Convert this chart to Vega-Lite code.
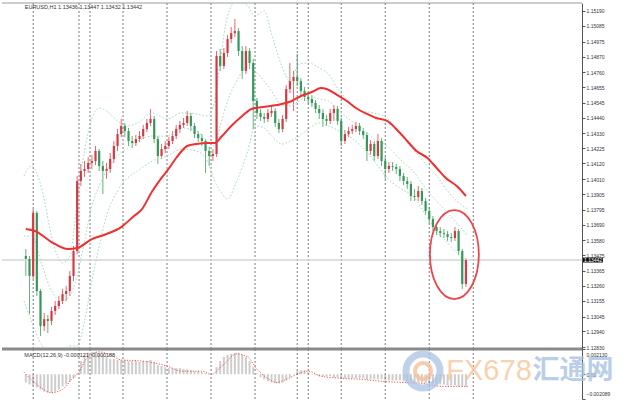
{
"$schema": "https://vega.github.io/schema/vega-lite/v6.json",
"background": "white",
"padding": {"left": 0, "top": 2, "right": 0, "bottom": 0},
"bounds": "flush",
"spacing": 0,
"config": {"view": {"stroke": null}, "text": {"font": "Liberation Sans"}, "scale": {"continuousPadding": 0}, "axis": {"grid": false, "title": null, "labelOverlap": false, "labelBound": false}},
"datasets": {
"candles": [
{"t":0,"o":1.1347,"h":1.13519,"l":1.1333,"c":1.13449},
{"t":2,"o":1.13449,"h":1.1347,"l":1.13063,"c":1.1333},
{"t":4,"o":1.1333,"h":1.138,"l":1.13308,"c":1.13772},
{"t":6,"o":1.13772,"h":1.13786,"l":1.13189,"c":1.13224},
{"t":8,"o":1.13224,"h":1.13238,"l":1.12908,"c":1.12978},
{"t":10,"o":1.12978,"h":1.1307,"l":1.12943,"c":1.13027},
{"t":12,"o":1.13027,"h":1.13056,"l":1.12929,"c":1.13014},
{"t":14,"o":1.13014,"h":1.13112,"l":1.12985,"c":1.13084},
{"t":16,"o":1.13084,"h":1.13154,"l":1.13056,"c":1.13119},
{"t":18,"o":1.13119,"h":1.13189,"l":1.13098,"c":1.13154},
{"t":20,"o":1.13154,"h":1.13238,"l":1.13133,"c":1.13203},
{"t":22,"o":1.13203,"h":1.13259,"l":1.13154,"c":1.13224},
{"t":24,"o":1.13224,"h":1.13365,"l":1.13189,"c":1.1333},
{"t":26,"o":1.1333,"h":1.1354,"l":1.13294,"c":1.13505},
{"t":28,"o":1.13505,"h":1.14032,"l":1.13484,"c":1.13996},
{"t":30,"o":1.13996,"h":1.14116,"l":1.13961,"c":1.14067},
{"t":32,"o":1.14067,"h":1.14137,"l":1.14025,"c":1.14081},
{"t":34,"o":1.14081,"h":1.14165,"l":1.14053,"c":1.14123},
{"t":36,"o":1.14123,"h":1.14179,"l":1.14081,"c":1.14137},
{"t":38,"o":1.14137,"h":1.14242,"l":1.14109,"c":1.14207},
{"t":40,"o":1.14207,"h":1.14221,"l":1.14067,"c":1.14102},
{"t":42,"o":1.14102,"h":1.14137,"l":1.13905,"c":1.14067},
{"t":44,"o":1.14067,"h":1.14123,"l":1.14011,"c":1.14081},
{"t":46,"o":1.14081,"h":1.14193,"l":1.14053,"c":1.14151},
{"t":48,"o":1.14151,"h":1.14277,"l":1.14123,"c":1.14242},
{"t":50,"o":1.14242,"h":1.14361,"l":1.14207,"c":1.14326},
{"t":52,"o":1.14326,"h":1.14432,"l":1.14305,"c":1.14383},
{"t":54,"o":1.14383,"h":1.14404,"l":1.14305,"c":1.14347},
{"t":56,"o":1.14347,"h":1.14369,"l":1.14242,"c":1.14277},
{"t":58,"o":1.14277,"h":1.14312,"l":1.14228,"c":1.14263},
{"t":60,"o":1.14263,"h":1.14319,"l":1.14242,"c":1.14291},
{"t":62,"o":1.14291,"h":1.14347,"l":1.1427,"c":1.14312},
{"t":64,"o":1.14312,"h":1.1439,"l":1.14291,"c":1.14361},
{"t":66,"o":1.14361,"h":1.14432,"l":1.1434,"c":1.14404},
{"t":68,"o":1.14404,"h":1.14502,"l":1.14383,"c":1.14432},
{"t":70,"o":1.14432,"h":1.14453,"l":1.14263,"c":1.14291},
{"t":72,"o":1.14291,"h":1.14312,"l":1.14116,"c":1.14172},
{"t":74,"o":1.14172,"h":1.14256,"l":1.14151,"c":1.14221},
{"t":76,"o":1.14221,"h":1.14277,"l":1.14193,"c":1.14242},
{"t":78,"o":1.14242,"h":1.14305,"l":1.14221,"c":1.14277},
{"t":80,"o":1.14277,"h":1.14347,"l":1.14256,"c":1.14312},
{"t":82,"o":1.14312,"h":1.1439,"l":1.14291,"c":1.14361},
{"t":84,"o":1.14361,"h":1.14418,"l":1.14333,"c":1.1439},
{"t":86,"o":1.1439,"h":1.14439,"l":1.14369,"c":1.14404},
{"t":88,"o":1.14404,"h":1.14488,"l":1.14383,"c":1.14453},
{"t":90,"o":1.14453,"h":1.14474,"l":1.14347,"c":1.14383},
{"t":92,"o":1.14383,"h":1.14404,"l":1.14298,"c":1.14326},
{"t":94,"o":1.14326,"h":1.14347,"l":1.1427,"c":1.14298},
{"t":96,"o":1.14298,"h":1.14326,"l":1.14242,"c":1.14277},
{"t":98,"o":1.14277,"h":1.14291,"l":1.14053,"c":1.14207},
{"t":100,"o":1.14207,"h":1.14235,"l":1.14102,"c":1.14172},
{"t":102,"o":1.14172,"h":1.14221,"l":1.14137,"c":1.14186},
{"t":104,"o":1.14186,"h":1.14909,"l":1.14165,"c":1.14874},
{"t":106,"o":1.14874,"h":1.14923,"l":1.14769,"c":1.14804},
{"t":108,"o":1.14804,"h":1.1493,"l":1.14783,"c":1.14895},
{"t":110,"o":1.14895,"h":1.15021,"l":1.14867,"c":1.14993},
{"t":112,"o":1.14993,"h":1.15077,"l":1.14965,"c":1.15035},
{"t":114,"o":1.15035,"h":1.15134,"l":1.15007,"c":1.15049},
{"t":116,"o":1.15049,"h":1.1507,"l":1.14874,"c":1.14909},
{"t":118,"o":1.14909,"h":1.14944,"l":1.14712,"c":1.14769},
{"t":120,"o":1.14769,"h":1.14944,"l":1.14748,"c":1.14909},
{"t":122,"o":1.14909,"h":1.1493,"l":1.14783,"c":1.14825},
{"t":124,"o":1.14825,"h":1.14853,"l":1.14361,"c":1.14558},
{"t":126,"o":1.14558,"h":1.14579,"l":1.14432,"c":1.14474},
{"t":128,"o":1.14474,"h":1.14502,"l":1.14418,"c":1.14446},
{"t":130,"o":1.14446,"h":1.14474,"l":1.14404,"c":1.14432},
{"t":132,"o":1.14432,"h":1.14502,"l":1.14411,"c":1.14474},
{"t":134,"o":1.14474,"h":1.14523,"l":1.14446,"c":1.14488},
{"t":136,"o":1.14488,"h":1.14509,"l":1.14376,"c":1.14404},
{"t":138,"o":1.14404,"h":1.14432,"l":1.14333,"c":1.14361},
{"t":140,"o":1.14361,"h":1.1446,"l":1.1434,"c":1.14432},
{"t":142,"o":1.14432,"h":1.1467,"l":1.14411,"c":1.14642},
{"t":144,"o":1.14642,"h":1.14825,"l":1.14614,"c":1.14698},
{"t":146,"o":1.14698,"h":1.14769,"l":1.14488,"c":1.14726},
{"t":148,"o":1.14726,"h":1.14888,"l":1.14663,"c":1.14698},
{"t":150,"o":1.14698,"h":1.14719,"l":1.14593,"c":1.14628},
{"t":152,"o":1.14628,"h":1.14656,"l":1.14558,"c":1.14586},
{"t":154,"o":1.14586,"h":1.14614,"l":1.14537,"c":1.14572},
{"t":156,"o":1.14572,"h":1.146,"l":1.14516,"c":1.14544},
{"t":158,"o":1.14544,"h":1.14565,"l":1.14474,"c":1.14502},
{"t":160,"o":1.14502,"h":1.1453,"l":1.14432,"c":1.14474},
{"t":162,"o":1.14474,"h":1.14502,"l":1.14376,"c":1.14432},
{"t":164,"o":1.14432,"h":1.1446,"l":1.14383,"c":1.14418},
{"t":166,"o":1.14418,"h":1.14502,"l":1.14397,"c":1.14474},
{"t":168,"o":1.14474,"h":1.1453,"l":1.14418,"c":1.14502},
{"t":170,"o":1.14502,"h":1.14523,"l":1.1439,"c":1.14418},
{"t":172,"o":1.14418,"h":1.14439,"l":1.14242,"c":1.14277},
{"t":174,"o":1.14277,"h":1.14354,"l":1.14256,"c":1.14326},
{"t":176,"o":1.14326,"h":1.14376,"l":1.14305,"c":1.14347},
{"t":178,"o":1.14347,"h":1.1439,"l":1.14326,"c":1.14361},
{"t":180,"o":1.14361,"h":1.14411,"l":1.1434,"c":1.14383},
{"t":182,"o":1.14383,"h":1.14404,"l":1.14319,"c":1.14347},
{"t":184,"o":1.14347,"h":1.14369,"l":1.14291,"c":1.14319},
{"t":186,"o":1.14319,"h":1.1434,"l":1.14137,"c":1.14207},
{"t":188,"o":1.14207,"h":1.14284,"l":1.14179,"c":1.14256},
{"t":190,"o":1.14256,"h":1.14277,"l":1.14137,"c":1.14172},
{"t":192,"o":1.14172,"h":1.14326,"l":1.14151,"c":1.14277},
{"t":194,"o":1.14277,"h":1.14298,"l":1.14102,"c":1.14137},
{"t":196,"o":1.14137,"h":1.14165,"l":1.14011,"c":1.14081},
{"t":198,"o":1.14081,"h":1.1413,"l":1.14053,"c":1.14102},
{"t":200,"o":1.14102,"h":1.1413,"l":1.14067,"c":1.14095},
{"t":202,"o":1.14095,"h":1.14116,"l":1.14046,"c":1.14081},
{"t":204,"o":1.14081,"h":1.14102,"l":1.13996,"c":1.14032},
{"t":206,"o":1.14032,"h":1.14053,"l":1.13968,"c":1.13996},
{"t":208,"o":1.13996,"h":1.14025,"l":1.1394,"c":1.13975},
{"t":210,"o":1.13975,"h":1.13996,"l":1.13856,"c":1.13891},
{"t":212,"o":1.13891,"h":1.1394,"l":1.13856,"c":1.13884},
{"t":214,"o":1.13884,"h":1.13961,"l":1.13856,"c":1.13926},
{"t":216,"o":1.13926,"h":1.13947,"l":1.13828,"c":1.13856},
{"t":218,"o":1.13856,"h":1.13877,"l":1.13758,"c":1.13786},
{"t":220,"o":1.13786,"h":1.13814,"l":1.13702,"c":1.1373},
{"t":222,"o":1.1373,"h":1.13751,"l":1.13645,"c":1.13673},
{"t":224,"o":1.13673,"h":1.13702,"l":1.13617,"c":1.13645},
{"t":226,"o":1.13645,"h":1.13673,"l":1.13603,"c":1.13631},
{"t":228,"o":1.13631,"h":1.13659,"l":1.13596,"c":1.13624},
{"t":230,"o":1.13624,"h":1.13645,"l":1.13575,"c":1.13603},
{"t":232,"o":1.13603,"h":1.13631,"l":1.13568,"c":1.13596},
{"t":234,"o":1.13596,"h":1.13673,"l":1.13575,"c":1.13645},
{"t":236,"o":1.13645,"h":1.13659,"l":1.13477,"c":1.13505},
{"t":238,"o":1.13505,"h":1.13519,"l":1.13238,"c":1.13273},
{"t":240,"o":1.13273,"h":1.13456,"l":1.13252,"c":1.13442}
],
"ma": [
{"t":0,"p":1.13659},{"t":5,"p":1.13645},{"t":14,"p":1.13568},{"t":23,"p":1.13519},{"t":28,"p":1.13526},{"t":36,"p":1.13589},{"t":44,"p":1.13624},{"t":52,"p":1.13673},{"t":59,"p":1.13751},{"t":63,"p":1.13793},{"t":69,"p":1.13926},{"t":74,"p":1.14018},{"t":77,"p":1.14067},{"t":82,"p":1.14158},{"t":85,"p":1.14207},{"t":88,"p":1.14242},{"t":93,"p":1.14256},{"t":99,"p":1.14263},{"t":103,"p":1.14263},{"t":107,"p":1.14312},{"t":112,"p":1.14383},{"t":118,"p":1.14453},{"t":123,"p":1.14502},{"t":129,"p":1.14516},{"t":137,"p":1.1453},{"t":145,"p":1.14558},{"t":150,"p":1.14593},{"t":156,"p":1.14621},{"t":161,"p":1.14649},{"t":164,"p":1.14642},{"t":169,"p":1.14607},{"t":175,"p":1.14558},{"t":180,"p":1.14509},{"t":186,"p":1.14467},{"t":191,"p":1.14439},{"t":197,"p":1.14418},{"t":202,"p":1.14361},{"t":208,"p":1.14277},{"t":213,"p":1.14207},{"t":219,"p":1.14158},{"t":224,"p":1.14088},{"t":229,"p":1.14018},{"t":235,"p":1.13961},{"t":240,"p":1.13891}
],
"bands": [
{"t":-1,"u":1.14032,"m":1.1361,"lo":1.13154},{"t":3,"u":1.14102,"m":1.1361,"lo":1.13014},{"t":9,"u":1.13926,"m":1.134,"lo":1.12839},{"t":14,"u":1.1361,"m":1.13224,"lo":1.12789},{"t":20,"u":1.13421,"m":1.13154,"lo":1.12803},{"t":24,"u":1.1347,"m":1.13189,"lo":1.12839},{"t":28,"u":1.13856,"m":1.13329,"lo":1.12839},{"t":32,"u":1.14207,"m":1.13575,"lo":1.13014},{"t":36,"u":1.14432,"m":1.13821,"lo":1.13294},{"t":40,"u":1.14509,"m":1.13961,"lo":1.1354},{"t":44,"u":1.14488,"m":1.14067,"lo":1.13751},{"t":50,"u":1.14418,"m":1.14172,"lo":1.13926},{"t":55,"u":1.14383,"m":1.14221,"lo":1.14011},{"t":61,"u":1.14404,"m":1.14277,"lo":1.14067},{"t":69,"u":1.14474,"m":1.14312,"lo":1.14137},{"t":77,"u":1.14432,"m":1.14312,"lo":1.14172},{"t":85,"u":1.14474,"m":1.14369,"lo":1.14221},{"t":93,"u":1.14467,"m":1.14347,"lo":1.14207},{"t":99,"u":1.14453,"m":1.14277,"lo":1.14137},{"t":103,"u":1.14558,"m":1.14242,"lo":1.13996},{"t":106,"u":1.14839,"m":1.14383,"lo":1.13926},{"t":110,"u":1.15155,"m":1.14558,"lo":1.1387},{"t":115,"u":1.1526,"m":1.14698,"lo":1.13996},{"t":121,"u":1.15225,"m":1.14804,"lo":1.14207},{"t":125,"u":1.15155,"m":1.14769,"lo":1.14383},{"t":130,"u":1.1519,"m":1.14698,"lo":1.14369},{"t":134,"u":1.15028,"m":1.14628,"lo":1.14312},{"t":140,"u":1.1479,"m":1.14523,"lo":1.14256},{"t":144,"u":1.14698,"m":1.14523,"lo":1.14277},{"t":149,"u":1.14818,"m":1.14558,"lo":1.14312},{"t":154,"u":1.14825,"m":1.14593,"lo":1.14361},{"t":160,"u":1.1479,"m":1.14572,"lo":1.14404},{"t":165,"u":1.14748,"m":1.14558,"lo":1.14383},{"t":171,"u":1.14628,"m":1.14488,"lo":1.14347},{"t":176,"u":1.14558,"m":1.14432,"lo":1.14312},{"t":183,"u":1.14488,"m":1.14369,"lo":1.14242},{"t":190,"u":1.14474,"m":1.14291,"lo":1.14137},{"t":197,"u":1.14439,"m":1.14242,"lo":1.14018},{"t":204,"u":1.14326,"m":1.14151,"lo":1.13947},{"t":212,"u":1.14207,"m":1.14053,"lo":1.13877},{"t":219,"u":1.14102,"m":1.13926,"lo":1.13737},{"t":224,"u":1.14032,"m":1.13856,"lo":1.13645},{"t":230,"u":1.13926,"m":1.13772,"lo":1.13561},{"t":235,"u":1.13856,"m":1.13702,"lo":1.13491},{"t":241,"u":1.138,"m":1.1361,"lo":1.134}
],
"hist": [
{"t":0,"v":-0.00069},{"t":2,"v":-0.00086},{"t":4,"v":-0.00095},{"t":6,"v":-0.00112},{"t":8,"v":-0.00129},{"t":10,"v":-0.00146},{"t":12,"v":-0.00155},{"t":14,"v":-0.00155},{"t":16,"v":-0.00146},{"t":18,"v":-0.00129},{"t":20,"v":-0.00103},{"t":22,"v":-0.00086},{"t":24,"v":-0.0006},{"t":26,"v":-0.00034},{"t":28,"v":0.00009},{"t":30,"v":0.00112},{"t":32,"v":0.00164},{"t":34,"v":0.00181},{"t":36,"v":0.00189},{"t":38,"v":0.00189},{"t":40,"v":0.00181},{"t":42,"v":0.00164},{"t":44,"v":0.00146},{"t":46,"v":0.00129},{"t":48,"v":0.00129},{"t":50,"v":0.00121},{"t":52,"v":0.00121},{"t":54,"v":0.00121},{"t":56,"v":0.00112},{"t":58,"v":0.00112},{"t":60,"v":0.00112},{"t":62,"v":0.00103},{"t":64,"v":0.00112},{"t":66,"v":0.00112},{"t":68,"v":0.00121},{"t":70,"v":0.00103},{"t":72,"v":0.00077},{"t":74,"v":0.00069},{"t":76,"v":0.0006},{"t":78,"v":0.00052},{"t":80,"v":0.00052},{"t":82,"v":0.00052},{"t":84,"v":0.00052},{"t":86,"v":0.00043},{"t":88,"v":0.00043},{"t":90,"v":0.00034},{"t":92,"v":0.00026},{"t":94,"v":0.00026},{"t":96,"v":0.00017},{"t":98,"v":0.00009},{"t":100,"v":0.00004},{"t":102,"v":-0.00004},{"t":104,"v":0.0006},{"t":106,"v":0.00112},{"t":108,"v":0.00146},{"t":110,"v":0.00164},{"t":112,"v":0.00172},{"t":114,"v":0.00181},{"t":116,"v":0.00181},{"t":118,"v":0.00164},{"t":120,"v":0.00146},{"t":122,"v":0.00112},{"t":124,"v":0.0006},{"t":126,"v":0.00009},{"t":128,"v":-0.00026},{"t":130,"v":-0.00043},{"t":132,"v":-0.0006},{"t":134,"v":-0.00069},{"t":136,"v":-0.00077},{"t":138,"v":-0.00077},{"t":140,"v":-0.00069},{"t":142,"v":-0.00052},{"t":144,"v":-0.00026},{"t":146,"v":0.00004},{"t":148,"v":0.00026},{"t":150,"v":0.00034},{"t":152,"v":0.00034},{"t":154,"v":0.00017},{"t":156,"v":-0.00004},{"t":158,"v":-0.00009},{"t":160,"v":-0.00017},{"t":162,"v":-0.00017},{"t":164,"v":-0.00017},{"t":166,"v":-0.00017},{"t":168,"v":-0.00026},{"t":170,"v":-0.00026},{"t":172,"v":-0.00034},{"t":174,"v":-0.00034},{"t":176,"v":-0.00034},{"t":178,"v":-0.00034},{"t":180,"v":-0.00034},{"t":182,"v":-0.00034},{"t":184,"v":-0.00034},{"t":186,"v":-0.00043},{"t":188,"v":-0.00043},{"t":190,"v":-0.00043},{"t":192,"v":-0.00043},{"t":194,"v":-0.00043},{"t":196,"v":-0.00052},{"t":198,"v":-0.00052},{"t":200,"v":-0.00052},{"t":202,"v":-0.00052},{"t":204,"v":-0.00052},{"t":206,"v":-0.0006},{"t":208,"v":-0.0006},{"t":210,"v":-0.0006},{"t":212,"v":-0.00069},{"t":214,"v":-0.00069},{"t":216,"v":-0.00069},{"t":218,"v":-0.00077},{"t":220,"v":-0.00077},{"t":222,"v":-0.00077},{"t":224,"v":-0.00086},{"t":226,"v":-0.00086},{"t":228,"v":-0.00086},{"t":230,"v":-0.00095},{"t":232,"v":-0.00095},{"t":234,"v":-0.00095},{"t":236,"v":-0.00103},{"t":238,"v":-0.00103},{"t":240,"v":-0.00103}
],
"sig": [
{"t":-1,"s":0.00017},{"t":6,"s":-0.00086},{"t":14,"s":-0.00155},{"t":20,"s":-0.00129},{"t":25,"s":-0.00043},{"t":29,"s":0.00017},{"t":33,"s":0.00129},{"t":40,"s":0.00189},{"t":47,"s":0.00155},{"t":52,"s":0.00121},{"t":63,"s":0.00112},{"t":77,"s":0.00069},{"t":85,"s":0.00026},{"t":96,"s":0.00026},{"t":101,"s":0},{"t":107,"s":0.00069},{"t":115,"s":0.00172},{"t":121,"s":0.00146},{"t":126,"s":0.00043},{"t":131,"s":-0.00026},{"t":137,"s":-0.00069},{"t":142,"s":-0.00043},{"t":151,"s":0.00017},{"t":154,"s":0.00026},{"t":161,"s":-0.00017},{"t":172,"s":-0.00034},{"t":183,"s":-0.00043},{"t":194,"s":-0.0006},{"t":205,"s":-0.00069},{"t":216,"s":-0.00077},{"t":227,"s":-0.00103},{"t":235,"s":-0.00103},{"t":241,"s":-0.00103}
],
"seps": [{"t":4},{"t":29},{"t":35},{"t":53},{"t":77},{"t":101},{"t":125},{"t":148},{"t":154},{"t":172},{"t":196},{"t":220},{"t":244}],
"one": [{}]
},
"vconcat": [
{
"width": 580, "height": 346,
"layer": [
{"data": {"name": "candles"}, "mark": {"type": "rule", "strokeWidth": 1, "opacity": 0.8},
 "encoding": {"x": {"field": "t", "type": "quantitative", "scale": {"domain": [-13, 303.3], "nice": false, "zero": false, "padding": 0}, "axis": null},
  "y": {"field": "h", "type": "quantitative", "scale": {"domain": [1.12817, 1.15246], "nice": false, "zero": false, "padding": 0},
   "axis": {"orient": "right", "title": null, "grid": false, "tickCount": 40, "values": [1.1519, 1.15085, 1.14975, 1.1487, 1.1476, 1.14655, 1.14545, 1.1444, 1.1433, 1.14225, 1.1412, 1.1401, 1.13905, 1.13795, 1.1369, 1.1358, 1.13475, 1.13365, 1.1326, 1.13155, 1.13045, 1.1294, 1.1283],
    "format": ".5f", "tickSize": 3, "labelPadding": 1, "labelFontSize": 5, "labelFont": "Liberation Sans", "labelColor": "#333333", "domainColor": "#555555", "tickColor": "#555555", "labelOverlap": false, "labelBound": false, "labelFlush": false}},
  "y2": {"field": "l"},
  "color": {"condition": {"test": "datum.c > datum.o", "value": "#d9434a"}, "value": "#3c9d5d"}}},
{"data": {"name": "seps"}, "mark": {"type": "rule", "color": "#7a7a7a", "strokeDash": [2, 2], "strokeWidth": 1},
 "encoding": {"x": {"field": "t", "type": "quantitative", "scale": {"domain": [-13, 303.3], "nice": false, "zero": false, "padding": 0}, "axis": null}}},
{"data": {"name": "one"}, "mark": {"type": "rule", "color": "#d4d4d4", "strokeWidth": 1.5},
 "encoding": {"y": {"datum": 1.13442, "type": "quantitative", "scale": {"domain": [1.12817, 1.15246], "nice": false, "zero": false, "padding": 0}}}},
{"data": {"name": "one"}, "mark": {"type": "rule", "color": "#9a9a9a", "strokeWidth": 1},
 "encoding": {"y": {"datum": 1.15246, "type": "quantitative", "scale": {"domain": [1.12817, 1.15246], "nice": false, "zero": false, "padding": 0}}}},
{"data": {"name": "one"}, "mark": {"type": "rule", "color": "#8a8a8a", "strokeWidth": 3},
 "encoding": {"y": {"datum": 1.12817, "type": "quantitative", "scale": {"domain": [1.12817, 1.15246], "nice": false, "zero": false, "padding": 0}}}},
{"data": {"name": "bands"}, "mark": {"type": "line", "color": "#9fd8b9", "strokeWidth": 1, "strokeDash": [1.5, 2], "interpolate": "monotone", "clip": true},
 "encoding": {"x": {"field": "t", "type": "quantitative", "scale": {"domain": [-13, 303.3], "nice": false, "zero": false, "padding": 0}, "axis": null},
  "y": {"field": "u", "type": "quantitative", "scale": {"domain": [1.12817, 1.15246], "nice": false, "zero": false, "padding": 0}}}},
{"data": {"name": "bands"}, "mark": {"type": "line", "color": "#9fd8b9", "strokeWidth": 1, "strokeDash": [1.5, 2], "interpolate": "monotone", "clip": true},
 "encoding": {"x": {"field": "t", "type": "quantitative", "scale": {"domain": [-13, 303.3], "nice": false, "zero": false, "padding": 0}, "axis": null},
  "y": {"field": "m", "type": "quantitative", "scale": {"domain": [1.12817, 1.15246], "nice": false, "zero": false, "padding": 0}}}},
{"data": {"name": "bands"}, "mark": {"type": "line", "color": "#9fd8b9", "strokeWidth": 1, "strokeDash": [1.5, 2], "interpolate": "monotone", "clip": true},
 "encoding": {"x": {"field": "t", "type": "quantitative", "scale": {"domain": [-13, 303.3], "nice": false, "zero": false, "padding": 0}, "axis": null},
  "y": {"field": "lo", "type": "quantitative", "scale": {"domain": [1.12817, 1.15246], "nice": false, "zero": false, "padding": 0}}}},
{"data": {"name": "candles"}, "mark": {"type": "bar", "width": 2.2},
 "encoding": {"x": {"field": "t", "type": "quantitative", "scale": {"domain": [-13, 303.3], "nice": false, "zero": false, "padding": 0}, "axis": null},
  "y": {"field": "o", "type": "quantitative", "scale": {"domain": [1.12817, 1.15246], "nice": false, "zero": false, "padding": 0}},
  "y2": {"field": "c"},
  "color": {"condition": {"test": "datum.c > datum.o", "value": "#d23b44"}, "value": "#35985a"}}},
{"data": {"name": "ma"}, "mark": {"type": "line", "color": "#ee3030", "strokeWidth": 2, "interpolate": "monotone"},
 "encoding": {"x": {"field": "t", "type": "quantitative", "scale": {"domain": [-13, 303.3], "nice": false, "zero": false, "padding": 0}, "axis": null},
  "y": {"field": "p", "type": "quantitative", "scale": {"domain": [1.12817, 1.15246], "nice": false, "zero": false, "padding": 0}}}},
{"data": {"name": "one"}, "mark": {"type": "point", "shape": "M-0.55,0A0.55,1,0,1,1,0.55,0A0.55,1,0,1,1,-0.55,0Z", "size": 7921, "filled": false, "stroke": "#e8474c", "strokeWidth": 1.8, "opacity": 1},
 "encoding": {"x": {"datum": 233.7, "type": "quantitative", "scale": {"domain": [-13, 303.3], "nice": false, "zero": false, "padding": 0}, "axis": null},
  "y": {"datum": 1.1348, "type": "quantitative", "scale": {"domain": [1.12817, 1.15246], "nice": false, "zero": false, "padding": 0}}}},
{"data": {"name": "one"}, "mark": {"type": "text", "text": "EURUSD,H1  1.13436 1.13447 1.13432 1.13442", "align": "left", "baseline": "middle", "fontSize": 5.5, "color": "#333333"},
 "encoding": {"x": {"datum": -0.6, "type": "quantitative", "scale": {"domain": [-13, 303.3], "nice": false, "zero": false, "padding": 0}, "axis": null},
  "y": {"datum": 1.15218, "type": "quantitative", "scale": {"domain": [1.12817, 1.15246], "nice": false, "zero": false, "padding": 0}}}},
{"data": {"name": "one"}, "mark": {"type": "rect", "color": "#111111", "clip": false},
 "encoding": {"x": {"datum": 303.8, "type": "quantitative", "scale": {"domain": [-13, 303.3], "nice": false, "zero": false, "padding": 0}, "axis": null},
  "x2": {"datum": 314.7},
  "y": {"datum": 1.13459, "type": "quantitative", "scale": {"domain": [1.12817, 1.15246], "nice": false, "zero": false, "padding": 0}},
  "y2": {"datum": 1.13424}}},
{"data": {"name": "one"}, "mark": {"type": "text", "text": "1.13442", "align": "center", "baseline": "middle", "fontSize": 5, "color": "#ffffff", "clip": false},
 "encoding": {"x": {"datum": 309.3, "type": "quantitative", "scale": {"domain": [-13, 303.3], "nice": false, "zero": false, "padding": 0}, "axis": null},
  "y": {"datum": 1.13442, "type": "quantitative", "scale": {"domain": [1.12817, 1.15246], "nice": false, "zero": false, "padding": 0}}}}
]
},
{
"width": 580, "height": 50,
"layer": [
{"data": {"name": "hist"}, "mark": {"type": "bar", "width": 2, "color": "#cdcdcd"},
 "encoding": {"x": {"field": "t", "type": "quantitative", "scale": {"domain": [-13, 303.3], "nice": false, "zero": false, "padding": 0}, "axis": null},
  "y": {"field": "v", "type": "quantitative", "scale": {"domain": [-0.002089, 0.00213], "nice": false, "zero": false, "padding": 0},
   "axis": {"orient": "right", "title": null, "grid": false, "tickCount": 10, "values": [0.00213, 0, -0.002089], "labelExpr": "datum.value == 0 ? '0.00' : format(datum.value, '.6f')",
    "tickSize": 3, "labelPadding": 1, "labelFontSize": 5, "labelFont": "Liberation Sans", "labelColor": "#333333", "domainColor": "#555555", "tickColor": "#555555", "labelFlush": true, "labelFlushOffset": -3, "labelOverlap": false, "labelBound": false}},
  "y2": {"datum": 0}}},
{"data": {"name": "seps"}, "mark": {"type": "rule", "color": "#7a7a7a", "strokeDash": [2, 2], "strokeWidth": 1},
 "encoding": {"x": {"field": "t", "type": "quantitative", "scale": {"domain": [-13, 303.3], "nice": false, "zero": false, "padding": 0}, "axis": null}}},
{"data": {"name": "sig"}, "mark": {"type": "line", "color": "#ee5555", "strokeWidth": 1, "strokeDash": [1.2, 1.5], "interpolate": "monotone"},
 "encoding": {"x": {"field": "t", "type": "quantitative", "scale": {"domain": [-13, 303.3], "nice": false, "zero": false, "padding": 0}, "axis": null},
  "y": {"field": "s", "type": "quantitative", "scale": {"domain": [-0.002089, 0.00213], "nice": false, "zero": false, "padding": 0}}}},
{"data": {"name": "one"}, "mark": {"type": "text", "text": "MACD(12,26,9) -0.000121 -0.000188", "align": "left", "baseline": "middle", "fontSize": 5.5, "color": "#333333"},
 "encoding": {"x": {"datum": -0.8, "type": "quantitative", "scale": {"domain": [-13, 303.3], "nice": false, "zero": false, "padding": 0}, "axis": null},
  "y": {"datum": 0.00162, "type": "quantitative", "scale": {"domain": [-0.002089, 0.00213], "nice": false, "zero": false, "padding": 0}}}},
{"data": {"name": "one"}, "mark": {"type": "point", "shape": "circle", "size": 1156, "filled": false, "stroke": "#a9c3e3", "strokeWidth": 7, "opacity": 0.75, "clip": false},
 "encoding": {"x": {"datum": 216.6, "type": "quantitative", "scale": {"domain": [-13, 303.3], "nice": false, "zero": false, "padding": 0}, "axis": null},
  "y": {"datum": 0.00027, "type": "quantitative", "scale": {"domain": [-0.002089, 0.00213], "nice": false, "zero": false, "padding": 0}}}},
{"data": {"name": "one"}, "mark": {"type": "point", "shape": "circle", "size": 260, "filled": false, "stroke": "#f6bf98", "strokeWidth": 4, "opacity": 0.8, "clip": false},
 "encoding": {"x": {"datum": 216.6, "type": "quantitative", "scale": {"domain": [-13, 303.3], "nice": false, "zero": false, "padding": 0}, "axis": null},
  "y": {"datum": 0.00027, "type": "quantitative", "scale": {"domain": [-0.002089, 0.00213], "nice": false, "zero": false, "padding": 0}}}},
{"data": {"name": "one"}, "mark": {"type": "text", "text": "FX678", "align": "center", "baseline": "middle", "font": "Liberation Sans", "fontSize": 29, "color": "#f8c9a0", "opacity": 0.85, "clip": false},
 "encoding": {"x": {"datum": 252.6, "type": "quantitative", "scale": {"domain": [-13, 303.3], "nice": false, "zero": false, "padding": 0}, "axis": null},
  "y": {"datum": 0.00027, "type": "quantitative", "scale": {"domain": [-0.002089, 0.00213], "nice": false, "zero": false, "padding": 0}}}},
{"data": {"name": "one"}, "mark": {"type": "text", "text": "汇通网", "align": "center", "baseline": "middle", "font": "Noto Sans CJK SC", "fontSize": 27, "fontWeight": "bold", "color": "#a9c3e3", "opacity": 0.8, "clip": false},
 "encoding": {"x": {"datum": 298.4, "type": "quantitative", "scale": {"domain": [-13, 303.3], "nice": false, "zero": false, "padding": 0}, "axis": null},
  "y": {"datum": 0.00027, "type": "quantitative", "scale": {"domain": [-0.002089, 0.00213], "nice": false, "zero": false, "padding": 0}}}}
]
}
]
}
